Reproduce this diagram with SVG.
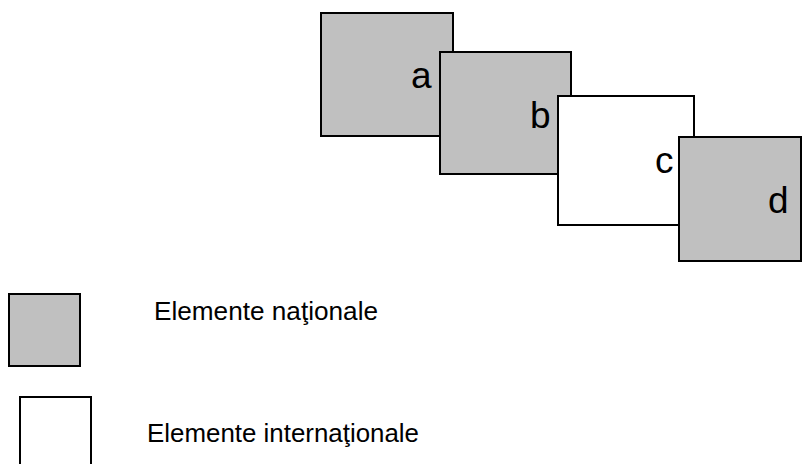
<svg xmlns="http://www.w3.org/2000/svg" width="803" height="464" viewBox="0 0 803 464">
<style>
.box{stroke:#000;stroke-width:2}
.nat{fill:#c0c0c0}
.int{fill:#fff}
.lbl{font-family:"Liberation Sans",Arial,sans-serif;font-size:37px;fill:#000}
.leg{font-family:"Liberation Sans",Arial,sans-serif;font-size:25px;fill:#000}
</style>
<rect width="803" height="464" fill="#fff"/>
<g id="node-a"><rect class="box nat" x="321" y="13" width="132" height="123"/><text class="lbl" x="411" y="88">a</text></g>
<g id="node-b"><rect class="box nat" x="440" y="52" width="131" height="122"/><text class="lbl" x="530" y="128">b</text></g>
<g id="node-c"><rect class="box int" x="558" y="96" width="136" height="129"/><text class="lbl" x="655" y="173">c</text></g>
<g id="node-d"><rect class="box nat" x="679" y="137" width="122" height="124"/><text class="lbl" x="768" y="213">d</text></g>
<g id="connectors"></g>
<g id="legend-national"><rect class="box nat" x="9" y="294" width="71" height="72"/><text class="leg" x="154" y="320" textLength="224" lengthAdjust="spacingAndGlyphs">Elemente naţionale</text></g>
<g id="legend-international"><rect class="box int" x="20" y="397" width="71" height="80"/><text class="leg" x="147" y="442" textLength="272" lengthAdjust="spacingAndGlyphs">Elemente internaţionale</text></g>
</svg>
